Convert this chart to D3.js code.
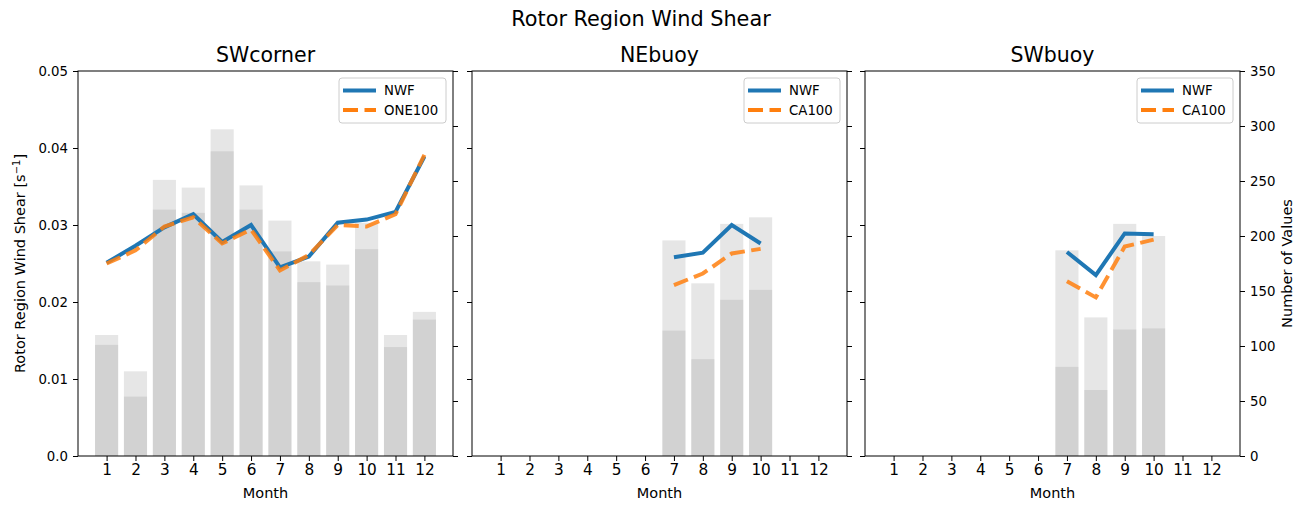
<!DOCTYPE html>
<html>
<head>
<meta charset="utf-8">
<script src="https://cdn.jsdelivr.net/npm/d3@7"></script>
<style>
  html, body { margin: 0; padding: 0; background: #fff; }
  svg { display: block; font-family: "DejaVu Sans", sans-serif; }
</style>
</head>
<body>
<svg id="chart" width="1304" height="509"></svg>
<script>
// ---------------- data ----------------
const months = [1, 2, 3, 4, 5, 6, 7, 8, 9, 10, 11, 12];
const panelTitles = ["SWcorner", "NEbuoy", "SWbuoy"];
const refNames = ["ONE100", "CA100", "CA100"];

const swcornerTotal = [110, 77, 251, 244, 297, 246, 214, 177, 174, 212, 110, 131];
const swcornerValid = [101, 54, 224, 221, 277, 224, 186, 158, 155, 188, 99, 124];
const swcornerNWF   = [0.0251, 0.0273, 0.0297, 0.0314, 0.0278, 0.0300, 0.0245, 0.0259, 0.0303, 0.0307, 0.0317, 0.0389];
const swcornerRef   = [0.0250, 0.0267, 0.0298, 0.0310, 0.0276, 0.0294, 0.0241, 0.0261, 0.0300, 0.0298, 0.0314, 0.0391];

const nebuoyTotal = [null, null, null, null, null, null, 196, 157, 211, 217, null, null];
const nebuoyValid = [null, null, null, null, null, null, 114, 88, 142, 151, null, null];
const nebuoyNWF   = [null, null, null, null, null, null, 0.0258, 0.0264, 0.0300, 0.0276, null, null];
const nebuoyRef   = [null, null, null, null, null, null, 0.0222, 0.0237, 0.0263, 0.0269, null, null];

const swbuoyTotal = [null, null, null, null, null, null, 187, 126, 211, 200, null, null];
const swbuoyValid = [null, null, null, null, null, null, 81, 60, 115, 116, null, null];
const swbuoyNWF   = [null, null, null, null, null, null, 0.0265, 0.0235, 0.0289, 0.0288, null, null];
const swbuoyRef   = [null, null, null, null, null, null, 0.0227, 0.0206, 0.0272, 0.0281, null, null];

const shearTicks = [0, 0.01, 0.02, 0.03, 0.04, 0.05];
const shearTickLabels = ["0.0", "0.01", "0.02", "0.03", "0.04", "0.05"];
const countTicks = [0, 50, 100, 150, 200, 250, 300, 350];

const panelsData = [
  { total: swcornerTotal, valid: swcornerValid, nwf: swcornerNWF, ref: swcornerRef },
  { total: nebuoyTotal, valid: nebuoyValid, nwf: nebuoyNWF, ref: nebuoyRef },
  { total: swbuoyTotal, valid: swbuoyValid, nwf: swbuoyNWF, ref: swbuoyRef }
];

// ---------------- layout ----------------
const svg = d3.select("#chart");
const plotTop = 71, plotBottom = 456;
const panelX = [[78, 453], [472, 847], [865, 1240]];
const blue = "#1f77b4", orange = "#ff7f0e";

const yL = d3.scaleLinear().domain([0, 0.05]).range([plotBottom, plotTop]);
const yR = d3.scaleLinear().domain([0, 350]).range([plotBottom, plotTop]);

svg.append("text")
  .attr("x", 641).attr("y", 26)
  .attr("text-anchor", "middle")
  .attr("font-size", "20.8px")
  .attr("fill", "#000")
  .text("Rotor Region Wind Shear");

panelsData.forEach((pd, i) => {
  const [x0, x1] = panelX[i];
  const x = d3.scaleLinear().domain([0.01, 12.99]).range([x0, x1]);
  const bw = x(0.8) - x(0);
  const g = svg.append("g");

  // bars (two overlapping translucent grey bars)
  [pd.total, pd.valid].forEach(arr => {
    g.selectAll(null)
      .data(months.map((m, k) => ({ m, v: arr[k] })).filter(d => d.v != null))
      .enter().append("rect")
      .attr("x", d => x(d.m) - bw / 2)
      .attr("width", bw)
      .attr("y", d => yR(d.v))
      .attr("height", d => yR(0) - yR(d.v))
      .attr("fill", "#808080")
      .attr("fill-opacity", 0.2);
  });

  // lines
  const line = d3.line()
    .defined(d => d.v != null)
    .x(d => x(d.m))
    .y(d => yL(d.v));

  g.append("path")
    .datum(months.map((m, k) => ({ m, v: pd.nwf[k] })))
    .attr("d", line)
    .attr("fill", "none")
    .attr("stroke", blue)
    .attr("stroke-width", 4)
    .attr("stroke-linejoin", "miter");

  g.append("path")
    .datum(months.map((m, k) => ({ m, v: pd.ref[k] })))
    .attr("d", line)
    .attr("fill", "none")
    .attr("stroke", orange)
    .attr("stroke-opacity", 0.85)
    .attr("stroke-width", 4)
    .attr("stroke-dasharray", "15,6.5");

  // frame
  g.append("rect")
    .attr("x", x0).attr("y", plotTop)
    .attr("width", x1 - x0).attr("height", plotBottom - plotTop)
    .attr("fill", "none").attr("stroke", "#000").attr("stroke-width", 1);

  // x axis
  const xAxis = d3.axisBottom(x).tickValues(months).tickSize(5).tickPadding(3).tickFormat(d3.format("d"));
  const gx = g.append("g").attr("transform", `translate(0,${plotBottom})`).call(xAxis);
  gx.select(".domain").remove();
  gx.selectAll("text").attr("font-size", "15.3px").attr("font-family", "DejaVu Sans").attr("fill", "#000");

  // left axis
  const leftAxis = d3.axisLeft(yL).tickValues(shearTicks).tickSize(5).tickPadding(5)
    .tickFormat((d, k) => i === 0 ? shearTickLabels[k] : "");
  const gl = g.append("g").attr("transform", `translate(${x0},0)`).call(leftAxis);
  gl.select(".domain").remove();
  gl.selectAll("text").attr("font-size", "13.3px").attr("font-family", "DejaVu Sans").attr("fill", "#000");

  // right axis
  const rightAxis = d3.axisRight(yR).tickValues(countTicks).tickSize(5).tickPadding(5)
    .tickFormat(d => i === 2 ? d : "");
  const gr = g.append("g").attr("transform", `translate(${x1},0)`).call(rightAxis);
  gr.select(".domain").remove();
  gr.selectAll("text").attr("font-size", "13.3px").attr("font-family", "DejaVu Sans").attr("fill", "#000");

  // titles
  g.append("text")
    .attr("x", (x0 + x1) / 2).attr("y", 62)
    .attr("text-anchor", "middle")
    .attr("font-size", "20.5px")
    .text(panelTitles[i]);

  g.append("text")
    .attr("x", (x0 + x1) / 2).attr("y", 498)
    .attr("text-anchor", "middle")
    .attr("font-size", "14.5px")
    .text("Month");

  // legend
  const lw = refNames[i] === "ONE100" ? 107 : 96;
  const lx = x1 - 7 - lw, ly = 78;
  const lg = g.append("g").attr("transform", `translate(${lx},${ly})`);
  lg.append("rect")
    .attr("width", lw).attr("height", 45)
    .attr("rx", 3).attr("ry", 3)
    .attr("fill", "#fff").attr("fill-opacity", 0.8)
    .attr("stroke", "#cccccc").attr("stroke-width", 1);
  lg.append("line")
    .attr("x1", 4).attr("x2", 37).attr("y1", 12.5).attr("y2", 12.5)
    .attr("stroke", blue).attr("stroke-width", 4);
  lg.append("line")
    .attr("x1", 4).attr("x2", 37).attr("y1", 32).attr("y2", 32)
    .attr("stroke", orange).attr("stroke-width", 4).attr("stroke-dasharray", "15,6.5");
  lg.append("text").attr("x", 45).attr("y", 17).attr("font-size", "13.3px").text("NWF");
  lg.append("text").attr("x", 45).attr("y", 37).attr("font-size", "13.3px").text(refNames[i]);
});

// y labels
const yl = svg.append("text")
  .attr("transform", `translate(25,${(plotTop + plotBottom) / 2}) rotate(-90)`)
  .attr("text-anchor", "middle")
  .attr("font-size", "14.5px");
yl.append("tspan").text("Rotor Region Wind Shear [s");
yl.append("tspan").attr("dy", -5).attr("font-size", "10px").text("−1");
yl.append("tspan").attr("dy", 5).text("]");

svg.append("text")
  .attr("transform", `translate(1292,${(plotTop + plotBottom) / 2}) rotate(-90)`)
  .attr("text-anchor", "middle")
  .attr("font-size", "14.5px")
  .text("Number of Values");
</script>
</body>
</html>
